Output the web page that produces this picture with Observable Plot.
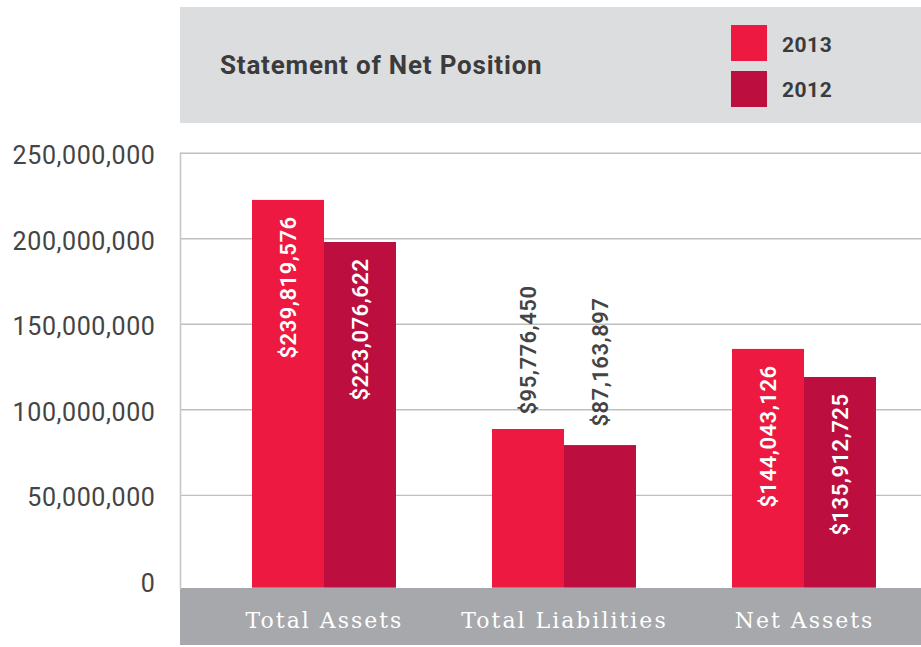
<!DOCTYPE html>
<html><head><meta charset="utf-8">
<script src="https://cdn.jsdelivr.net/npm/d3@7"></script>
<script src="https://cdn.jsdelivr.net/npm/@observablehq/plot@0.6"></script>
<style>
body{margin:0;background:#fff;}
#wrap{position:relative;width:921px;height:647px;overflow:hidden;font-family:Roboto,sans-serif;}
#header{position:absolute;left:180px;top:7px;width:741px;height:116px;background:#dcdddf;}
#title{position:absolute;left:40px;top:44.5px;font-size:26px;line-height:26px;font-weight:700;color:#3b3b3b;white-space:nowrap;letter-spacing:0.8px;}
.sw{position:absolute;left:551px;width:36px;height:36px;}
.lt{position:absolute;left:602px;font-size:21px;line-height:22px;font-weight:700;color:#3b3b3b;letter-spacing:0.5px;}
#band{position:absolute;left:180px;top:587.7px;width:741px;height:57.3px;background:#a7a8ab;}
#chart{position:absolute;left:0;top:130px;}
#chart svg{background:transparent;overflow:visible;}
.vlab text{letter-spacing:0.5px;}
.ylab text{letter-spacing:0.6px;}
.xlab text{letter-spacing:2px;}
</style>
</head><body>
<div id="wrap">
  <div id="band"></div>
  <div id="header">
    <div id="title">Statement of Net Position</div>
    <div class="sw" id="sw0" style="top:18px"></div>
    <div class="lt" id="lt0" style="top:26.5px"></div>
    <div class="sw" id="sw1" style="top:64px"></div>
    <div class="lt" id="lt1" style="top:72px"></div>
  </div>
  <div id="chart"></div>
</div>
<script>
const categories = ["Total Assets", "Total Liabilities", "Net Assets"];
const years = ["2013", "2012"];
const yearColors = ["#ed1941", "#bc0e3f"];
// bar heights as drawn in the picture
const values2013 = [222.4e6, 88.5e6, 135.3e6];
const values2012 = [197.8e6, 79.1e6, 118.9e6];
// printed value labels
const labels2013 = ["$239,819,576", "$95,776,450", "$144,043,126"];
const labels2012 = ["$223,076,622", "$87,163,897", "$135,912,725"];
const yTicks = [0, 50e6, 100e6, 150e6, 200e6, 250e6];

years.forEach((y, i) => {
  document.getElementById("sw" + i).style.background = yearColors[i];
  document.getElementById("lt" + i).textContent = y;
});

const rows = categories.flatMap((c, i) => [
  {category: c, year: years[0], value: values2013[i], label: labels2013[i]},
  {category: c, year: years[1], value: values2012[i], label: labels2012[i]}
]);
const r13 = rows.filter(d => d.year === years[0]);
const r12 = rows.filter(d => d.year === years[1]);
const inside = d => d.value > 100e6;

const plot = Plot.plot({
  width: 921, height: 517,
  marginLeft: 180, marginRight: 0, marginTop: 22.7, marginBottom: 59.3,
  style: {fontFamily: "Roboto, sans-serif", background: "transparent"},
  x: {domain: categories, range: [204, 924], paddingInner: 0.4, paddingOuter: 0.2, label: null},
  y: {domain: [0, 250e6], range: [450.4, 22.7], label: null},
  color: {domain: years, range: yearColors},
  marks: [
    Plot.ruleY(yTicks.filter(d => d > 0), {stroke: "#bfbfbf", strokeWidth: 1.4}),
    Plot.frame({anchor: "left", stroke: "#c8c8c8", strokeWidth: 1.6}),
    Plot.barY(r13, {x: "category", y: "value", fill: "year", insetRight: 72, insetLeft: 0, insetBottom: -7.3}),
    Plot.barY(r12, {x: "category", y: "value", fill: "year", insetLeft: 72, insetRight: 0, insetBottom: -7.3}),
    Plot.text(r13.filter(inside), {x: "category", y: "value", text: "label", rotate: -90, textAnchor: "end", dx: -36, dy: 16, fill: "white", fontSize: 22, fontWeight: 600, className: "vlab"}),
    Plot.text(r12.filter(inside), {x: "category", y: "value", text: "label", rotate: -90, textAnchor: "end", dx: 36, dy: 16, fill: "white", fontSize: 22, fontWeight: 600, className: "vlab"}),
    Plot.text(r13.filter(d => !inside(d)), {x: "category", y: "value", text: "label", rotate: -90, textAnchor: "start", dx: -36, dy: -15, fill: "#444", fontSize: 22, fontWeight: 600, className: "vlab"}),
    Plot.text(r12.filter(d => !inside(d)), {x: "category", y: "value", text: "label", rotate: -90, textAnchor: "start", dx: 36, dy: -19, fill: "#444", fontSize: 22, fontWeight: 600, className: "vlab"}),
    Plot.axisY({ticks: yTicks, tickSize: 0, tickPadding: 25, tickFormat: d3.format(","), fontSize: 25, fill: "#444", dy: 3, label: null, className: "ylab"}),
    Plot.axisX({tickSize: 0, tickPadding: 24.3, fontSize: 22, fill: "white", fontFamily: "DejaVu Serif", label: null, className: "xlab"})
  ]
});
document.getElementById("chart").appendChild(plot);
</script>
</body></html>
